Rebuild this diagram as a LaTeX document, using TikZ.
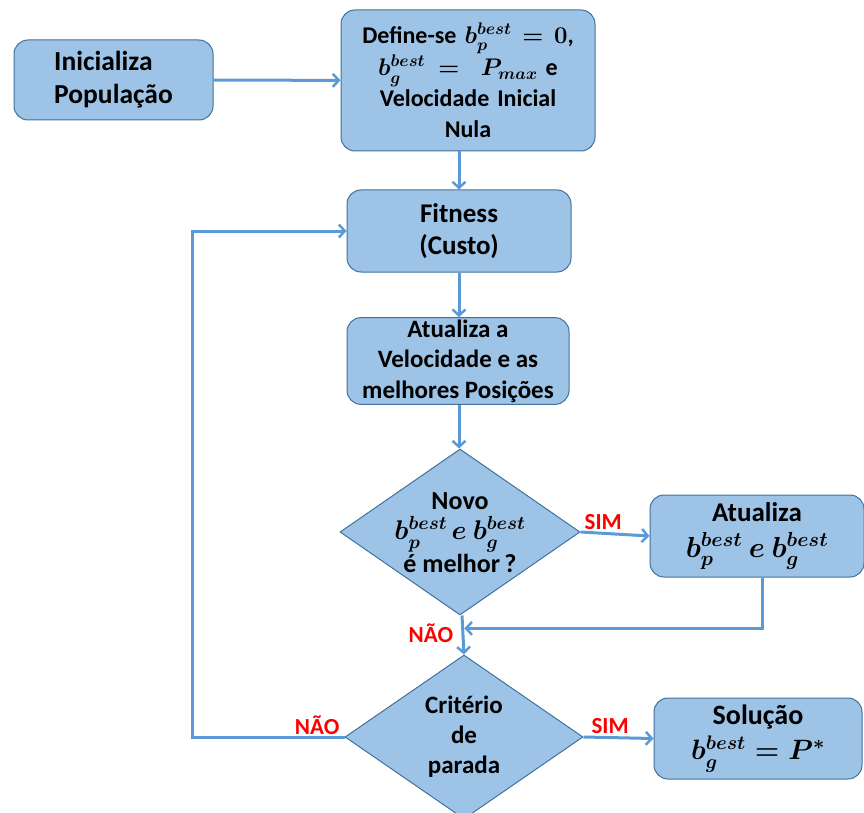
\documentclass[tikz,border=0pt]{standalone}
\usepackage{fix-cm}
\usepackage{amsmath}
\usepackage{fontspec}
\setmainfont{Carlito}
\usetikzlibrary{shapes.geometric,arrows.meta,calc}
\definecolor{boxfill}{HTML}{9DC3E6}
\definecolor{boxline}{HTML}{41719C}
\definecolor{arr}{HTML}{5B9BD5}
\definecolor{lab}{HTML}{FF0000}
\newcommand{\fnt}[2]{\fontsize{#1}{#2}\selectfont\bfseries\boldmath}
\begin{document}
\begin{tikzpicture}[x=1pt,y=-1pt,
  box/.style={draw=boxline, fill=boxfill, rounded corners=14pt, line width=1pt,
    inner sep=2pt, align=center},
  dec/.style={diamond, draw=boxline, fill=boxfill, line width=1pt, inner sep=0pt},
  dtext/.style={align=center, inner sep=0pt},
  conn/.style={draw=arr, line width=3pt, -{Straight Barb[length=6pt,width=13pt,line width=2.5pt]}},
  lbl/.style={text=lab, font=\fnt{23}{26}}]
\useasboundingbox (0,0) rectangle (864,813);

\node[box, minimum width=199pt, minimum height=80pt, align=left,
  font=\fnt{27.5}{33}] (init) at (113.5,80) {Inicializa\\População};
\node[box, minimum width=250pt, minimum height=141pt, text width=250pt,
  font=\fnt{24}{31}] (def) at (468,80.5)
  {Define-se $b_p^{best}=0$,\\ $b_g^{best}=\ P_{max}$ e\\Velocidade Inicial\\Nula};
\node[box, minimum width=224pt, minimum height=82pt,
  font=\fnt{27}{32}] (fit) at (459,231) {Fitness\\(Custo)};
\node[box, minimum width=222pt, minimum height=82pt,
  font=\fnt{25}{30.5}] (vel) at (458,361) {Atualiza a\\Velocidade e as\\melhores Posições};
\node[dec, minimum width=240pt, minimum height=166pt] (d1) at (460,532) {};
\node[dtext, font=\fnt{26}{30}] (d1t) at ([yshift=-1pt]d1) {Novo\\{\fontsize{27}{30}\selectfont$b_p^{best}$\,$e$ $b_g^{best}$}\\[2pt]é melhor\,?};
\node[box, minimum width=214pt, minimum height=82pt,
  font=\fnt{27}{33}] (upd) at (757,536)
  {Atualiza\\[3pt]{\fontsize{29}{33}\selectfont$b_p^{best}\ e\ b_g^{best}$}};
\node[dec, minimum width=238pt, minimum height=164pt] (d2) at (464,737) {};
\node[dtext, font=\fnt{25}{30}] (d2t) at (d2) {Critério\\de\\parada};
\node[box, minimum width=208pt, minimum height=81pt,
  font=\fnt{28}{32}] (sol) at (758,738.5)
  {Solução\\[3pt]{\fontsize{28}{32}\selectfont$b_g^{best}=P^*$}};

\draw[conn] (init) -- (def);
\draw[conn] (fit.north |- def.south) -- (fit.north);
\draw[conn] (fit.south) -- (fit.south |- vel.north);
\draw[conn] (fit.south |- vel.south) -- (fit.south |- d1.north);
\draw[conn] (d1.east) -- (upd.west) node[lbl, pos=0.33, above=-1pt] {SIM};
\draw[conn] ([xshift=2pt]d1.south) -- (d2.north) node[lbl, pos=0.45, left=5pt] {NÃO};
\coordinate (mrg) at ($(d1.south)!0.33!(d2.north)$);
\draw[conn] ([xshift=5pt]upd.south) |- ([xshift=3pt]mrg);
\draw[conn] (d2.east) -- (sol.west) node[lbl, pos=0.38, above=-1pt] {SIM};
\coordinate (lft) at (192,737);
\draw[conn] (d2.west) -- (lft) |- (fit.west);
\node[lbl, anchor=south east, inner sep=1pt] (nao2) at ([xshift=-4pt,yshift=1pt]d2.west) {NÃO};
\end{tikzpicture}
\end{document}
